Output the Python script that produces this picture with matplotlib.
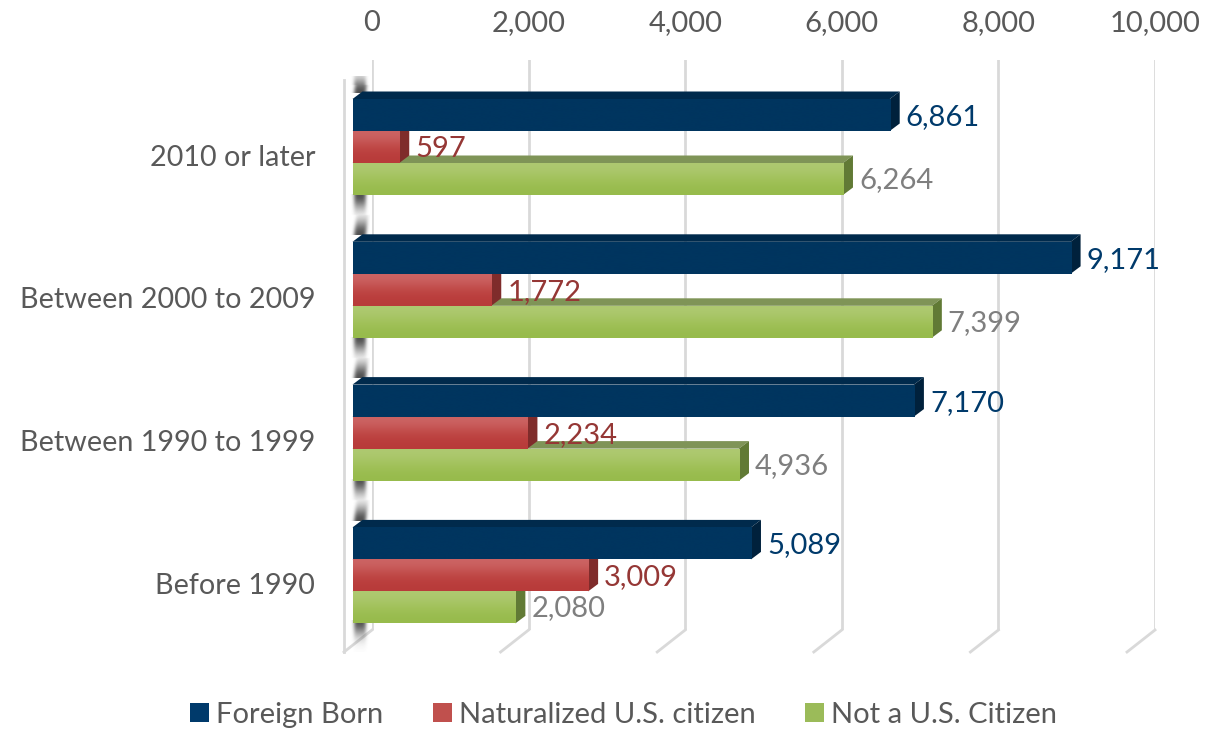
import matplotlib
matplotlib.use("Agg")
import matplotlib.pyplot as plt
import numpy as np
from matplotlib.patches import Polygon, Rectangle, Patch

categories = ["2010 or later", "Between 2000 to 2009", "Between 1990 to 1999", "Before 1990"]
foreign_born = [6861, 9171, 7170, 5089]
naturalized = [597, 1772, 2234, 3009]
not_citizen = [6264, 7399, 4936, 2080]
xticks = [0, 2000, 4000, 6000, 8000, 10000]

W, H = 1222, 729
FS = 21
plt.rcParams["font.family"] = ["Lato", "DejaVu Sans"]

fig = plt.figure(figsize=(W / 100, H / 100), dpi=100)
# axes box is the back wall of the fake 3d chart
left, right, top, bottom = 372, 1155, 60, 630
ax = fig.add_axes([left / W, 1 - bottom / H, (right - left) / W, (bottom - top) / H])

xpx = 10000 / (right - left)   # data units per pixel
ypx = 1 / 142.8                # category units per pixel
first = 155
ylims = ((bottom - first) * ypx, (top - first) * ypx)

front = -19.5 * xpx   # bar front starts about 20px left of the wall
dx = 10 * xpx
dy = 7.5 * ypx
bar_h = 32 * ypx


def draw_bar(y, value, colors, top_c, side_c):
    x0 = front
    x1 = front + value
    y0 = y - bar_h / 2
    y1 = y + bar_h / 2
    ax.add_patch(Polygon([[x0, y0], [x0 + dx, y0 - dy], [x1 + dx, y0 - dy], [x1, y0]],
                         fc=top_c, ec="none", zorder=4, clip_on=False))
    ax.add_patch(Polygon([[x1, y0], [x1 + dx, y0 - dy], [x1 + dx, y1 - dy], [x1, y1]],
                         fc=side_c, ec="none", zorder=4, clip_on=False))
    rect = Rectangle((x0, y0), value, bar_h, fc="none", ec="none", zorder=4, clip_on=False)
    ax.add_patch(rect)
    grad = np.array([[matplotlib.colors.to_rgb(c)] for c in colors])
    im = ax.imshow(grad, extent=[x0, x1, y1, y0], aspect="auto", zorder=4, interpolation="bicubic")
    im.set_clip_path(rect)


def wall_shadow(y0, y1, top_dark=True, bottom_dark=True):
    # the smudged dark strip on the left wall, visible between the groups
    # y0, y1 are in pixels from the top of the picture
    nx, ny = 40, max(int(y1 - y0), 2)
    xs = np.linspace(350, 370, nx)
    ys = np.linspace(y0, y1, ny)
    rgba = np.zeros((ny, nx, 4))
    rgba[:, :, :3] = 0.28
    for j, yy in enumerate(ys):
        a = 0.0
        if top_dark:
            a = max(a, np.exp(-((yy - y0) / 15) ** 2))
        if bottom_dark:
            a = max(a, np.exp(-((y1 - yy) / 15) ** 2))
        # the strip leans with the depth of the wall
        centre = 360 + (y1 - yy) * 0.12 if bottom_dark and yy > (y0 + y1) / 2 else 360
        rgba[j, :, 3] = a * np.exp(-((xs - centre) / 6.5) ** 4) * 0.95
    ax.imshow(rgba, extent=[(350 - left) * xpx, (370 - left) * xpx, (y1 - first) * ypx, (y0 - first) * ypx],
              aspect="auto", zorder=2, interpolation="bicubic", clip_on=False)


navy = ["#00355f", "#00355f"]
red = ["#cc6464", "#bf4644", "#b83b3a"]
green = ["#aec971", "#a2c25a", "#97bb4c"]

# wall strip between and around the groups
wall_shadow(76, 93, top_dark=False)
for y0, y1 in [(194, 235), (337, 378), (479, 521)]:
    wall_shadow(y0, y1)
wall_shadow(621, 652, bottom_dark=False)

for i in range(len(categories)):
    # back to front, so each bar covers the top of the one below it
    draw_bar(i + 24 * ypx, not_citizen[i], green, "#7f9457", "#617a35")
    draw_bar(i - 8 * ypx, naturalized[i], red, "#9c3a38", "#7f2c2b")
    draw_bar(i - 40 * ypx, foreign_born[i], navy, "#002a4c", "#00213c")
    ax.text(foreign_born[i] + front + dx + 6 * xpx, i - 38 * ypx, f"{foreign_born[i]:,}",
            color="#003a6b", fontsize=FS, va="center", zorder=6)
    ax.text(naturalized[i] + front + dx + 6 * xpx, i - 6 * ypx, f"{naturalized[i]:,}",
            color="#953735", fontsize=FS, va="center", zorder=6)
    ax.text(not_citizen[i] + front + dx + 6 * xpx, i + 25 * ypx, f"{not_citizen[i]:,}",
            color="#7f7f7f", fontsize=FS, va="center", zorder=6)

# restore limits, imshow changes them
ax.set_xlim(0, 10000)
ax.set_ylim(*ylims)

# walls and floor
grid_c = "#d9d9d9"
ax.set_xticks(xticks)
ax.set_xticklabels([f"{t:,}" for t in xticks], fontsize=FS, color="#595959")
ax.xaxis.tick_top()
ax.tick_params(axis="x", length=0, pad=17)
ax.set_yticks(range(len(categories)))
ax.set_yticklabels(categories, fontsize=20.7, color="#595959")
ax.tick_params(axis="y", length=0, pad=41)
ax.grid(axis="x", color=grid_c, lw=2, zorder=1)
ax.set_axisbelow(True)
for s in ax.spines.values():
    s.set_visible(False)
for t in xticks:
    ax.plot([t, t - 28 * xpx], [ylims[0], ylims[0] + 22 * ypx],
            color=grid_c, lw=2, clip_on=False, zorder=1)
ax.plot([-28 * xpx, -28 * xpx], [(80 - first) * ypx, ylims[0] + 22 * ypx],
        color=grid_c, lw=2, clip_on=False, zorder=1)

handles = [Patch(fc="#003a6b", label="Foreign Born"),
           Patch(fc="#c0504d", label="Naturalized U.S. citizen"),
           Patch(fc="#9bbb59", label="Not a U.S. Citizen")]
fig.legend(handles=handles, loc="center", bbox_to_anchor=(623.5 / W, 1 - 715 / H), ncol=3, frameon=False,
           fontsize=FS, labelcolor="#595959", handlelength=0.65, handleheight=0.65,
           handletextpad=0.25, columnspacing=1.7)

fig.savefig("out.png", dpi=100)
